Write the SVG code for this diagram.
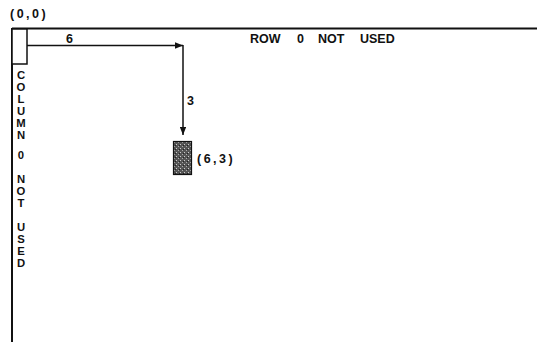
<svg xmlns="http://www.w3.org/2000/svg" width="537" height="343" viewBox="0 0 537 343">
<style>
.t{font-family:"Liberation Sans",Arial,sans-serif;font-weight:bold;font-size:12.5px;fill:#111}
.c{letter-spacing:2.5px}
.v{font-family:"Liberation Sans",Arial,sans-serif;font-weight:bold;font-size:11.3px;fill:#111;writing-mode:vertical-rl;text-orientation:upright}
.ln{stroke:#111;fill:none}
</style>
<defs>
<marker id="ah" viewBox="0 0 10 8" refX="10" refY="4" markerWidth="8" markerHeight="6.5" markerUnits="userSpaceOnUse" orient="auto">
<path d="M0,0 L10,4 L0,8 Z" fill="#111"/>
</marker>
<pattern id="spk" width="4" height="4" patternUnits="userSpaceOnUse">
<rect width="4" height="4" fill="#555"/>
<rect x="0" y="0" width="1" height="1" fill="#ccc"/>
<rect x="2" y="2" width="1" height="1" fill="#aaa"/>
<rect x="3" y="1" width="1" height="1" fill="#222"/>
</pattern>
</defs>
<g id="grid-frame">
<line class="ln" x1="12" y1="28.5" x2="537" y2="28.5" stroke-width="2"/>
<line class="ln" x1="12" y1="28" x2="12" y2="342" stroke-width="2"/>
</g>
<g id="origin-cell">
<rect x="12" y="29" width="15" height="35" fill="#fff" stroke="#111" stroke-width="1.5"/>
</g>
<g id="connectors">
<line class="ln" x1="27" y1="45.5" x2="183" y2="45.5" stroke-width="1.5" marker-end="url(#ah)"/>
<line class="ln" x1="183" y1="45" x2="183" y2="135" stroke-width="1.5" marker-end="url(#ah)"/>
</g>
<g id="target-cell">
<rect x="173.5" y="141.5" width="18" height="33" fill="url(#spk)" stroke="#111" stroke-width="1.2"/>
</g>
<g id="labels">
<text class="t c" x="10" y="18">(0,0)</text>
<text class="t" x="66" y="43">6</text>
<text class="t" x="187" y="105">3</text>
<text class="t c" x="197" y="163">(6,3)</text>
<text class="t" x="250" y="43">ROW</text>
<text class="t" x="297" y="43">0</text>
<text class="t" x="318" y="43">NOT</text>
<text class="t" x="360" y="43">USED</text>
</g>
<g id="column-label">
<text class="v" x="21" y="69">COLUMN</text>
<text class="v" x="21" y="149">0</text>
<text class="v" x="21" y="173">NOT</text>
<text class="v" x="21" y="221">USED</text>
</g>
</svg>
